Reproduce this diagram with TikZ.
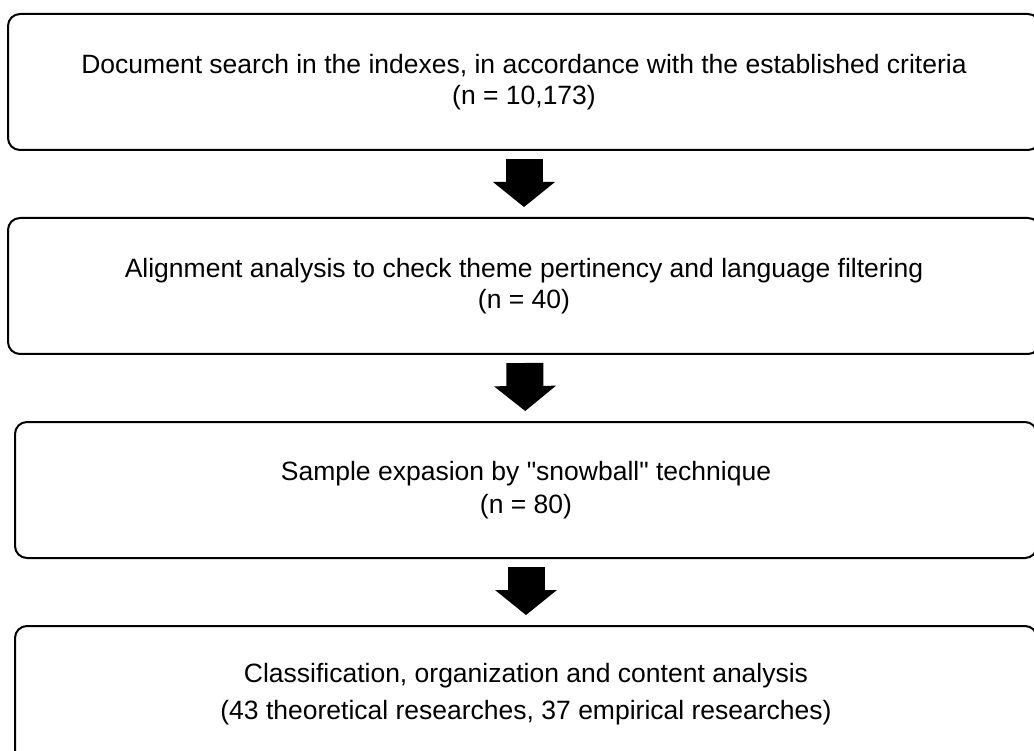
\documentclass[tikz,border=0pt]{standalone}
\usepackage{fontspec}
\setmainfont{Liberation Sans}
\usetikzlibrary{arrows.meta, positioning, calc}

\begin{document}
\begin{tikzpicture}[
        x=1pt, y=1pt,
        node distance=66pt,
        stage/.style={rectangle, draw=black, line width=2pt, rounded corners=12pt, minimum width=1032pt, minimum height=136pt, align=center, inner sep=0pt, font=\fontsize{26.5}{31}\selectfont},
        narrow/.style={minimum width=1022pt},
        flow/.style={line width=37pt, -{Triangle[length=25pt, width=62pt, line width=0pt]}, shorten <=8pt, shorten >=10pt},
    ]
        \clip (0,0) rectangle (1034,-751);

        % Stages
        \node[stage] (search) at (524,-82) {Document search in the indexes, in accordance with the established criteria\\(n = 10,173)};
        \node[stage, below=of search] (align) {Alignment analysis to check theme pertinency and language filtering\\(n = 40)};
        \node[stage, narrow, below=of align, xshift=2pt] (snowball) {Sample expasion by \textquotedbl snowball\textquotedbl{} technique\\[2pt](n = 80)};
        \node[stage, narrow, below=of snowball] (classif) {Classification, organization and content analysis\\[6pt](43 theoretical researches, 37 empirical researches)};

        % Arrows
        \draw[flow] (search) -- (align);
        \draw[flow] (align) -- (snowball);
        \draw[flow] (snowball) -- (classif);
\end{tikzpicture}
\end{document}
